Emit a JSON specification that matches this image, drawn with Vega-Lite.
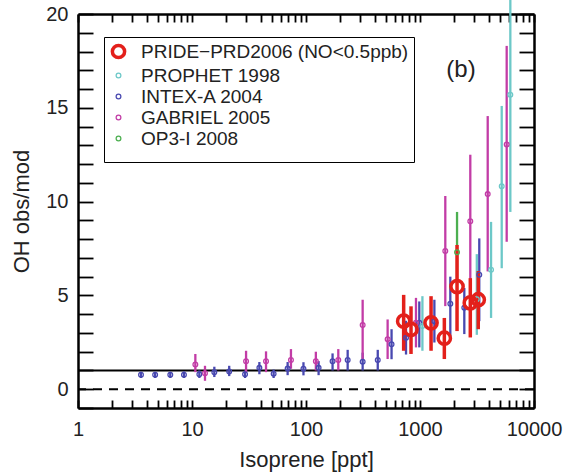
{
  "$schema": "https://vega.github.io/schema/vega-lite/v6.json",
  "width": 456,
  "height": 394,
  "autosize": {"type": "none"},
  "padding": {"left": 78, "top": 14, "right": 35, "bottom": 67},
  "background": "white",
  "config": {
    "view": {"stroke": null},
    "font": "Liberation Sans",
    "axis": {"grid": false, "domainColor": "black", "domainWidth": 2.5, "tickColor": "black", "tickWidth": 1.8, "labelColor": "#222", "titleColor": "#222", "labelFont": "Liberation Sans", "titleFont": "Liberation Sans", "titleFontWeight": "normal", "labelFlush": false, "labelOverlap": false},
    "legend": {"orient": "none", "legendX": 26, "legendY": 23, "strokeColor": "black", "padding": 5,
      "labelFontSize": 19, "labelFont": "Liberation Sans", "labelColor": "#222", "labelLimit": 400, "labelOffset": 13, "rowPadding": 1,
      "titleOrient": "bottom", "titleFontSize": 6, "titlePadding": 2}
  },
  "datasets": {
    "obs": [
      {"s": "INTEX-A 2004", "iso": 3.57, "ratio": 0.77, "lo": 0.6, "hi": 0.93},
      {"s": "INTEX-A 2004", "iso": 4.75, "ratio": 0.77, "lo": 0.6, "hi": 0.93},
      {"s": "INTEX-A 2004", "iso": 6.45, "ratio": 0.77, "lo": 0.6, "hi": 0.93},
      {"s": "INTEX-A 2004", "iso": 8.5, "ratio": 0.77, "lo": 0.6, "hi": 0.95},
      {"s": "INTEX-A 2004", "iso": 11.6, "ratio": 0.8, "lo": 0.6, "hi": 1.0},
      {"s": "INTEX-A 2004", "iso": 15.7, "ratio": 0.9, "lo": 0.65, "hi": 1.2},
      {"s": "INTEX-A 2004", "iso": 21.2, "ratio": 0.95, "lo": 0.7, "hi": 1.25},
      {"s": "INTEX-A 2004", "iso": 29.2, "ratio": 0.8, "lo": 0.6, "hi": 1.0},
      {"s": "INTEX-A 2004", "iso": 39, "ratio": 1.14, "lo": 0.8, "hi": 1.45},
      {"s": "INTEX-A 2004", "iso": 52, "ratio": 0.83, "lo": 0.6, "hi": 1.05},
      {"s": "INTEX-A 2004", "iso": 69, "ratio": 1.1, "lo": 0.75, "hi": 1.45},
      {"s": "INTEX-A 2004", "iso": 95, "ratio": 1.09, "lo": 0.74, "hi": 1.44},
      {"s": "INTEX-A 2004", "iso": 129, "ratio": 1.14, "lo": 0.75, "hi": 1.5},
      {"s": "INTEX-A 2004", "iso": 171, "ratio": 1.49, "lo": 1.0, "hi": 1.91},
      {"s": "INTEX-A 2004", "iso": 232, "ratio": 1.56, "lo": 1.0, "hi": 2.1},
      {"s": "INTEX-A 2004", "iso": 314, "ratio": 1.47, "lo": 1.0, "hi": 1.95},
      {"s": "INTEX-A 2004", "iso": 426, "ratio": 1.56, "lo": 1.0, "hi": 2.1},
      {"s": "INTEX-A 2004", "iso": 563, "ratio": 2.4, "lo": 1.6, "hi": 3.2},
      {"s": "INTEX-A 2004", "iso": 754, "ratio": 2.75, "lo": 1.85, "hi": 3.65},
      {"s": "INTEX-A 2004", "iso": 986, "ratio": 3.54, "lo": 2.23, "hi": 4.68},
      {"s": "INTEX-A 2004", "iso": 1337, "ratio": 3.63, "lo": 2.49, "hi": 4.77},
      {"s": "INTEX-A 2004", "iso": 1845, "ratio": 4.56, "lo": 2.75, "hi": 6.0},
      {"s": "INTEX-A 2004", "iso": 2447, "ratio": 4.34, "lo": 2.94, "hi": 5.4},
      {"s": "INTEX-A 2004", "iso": 3311, "ratio": 6.1, "lo": 3.63, "hi": 8.04},
      {"s": "GABRIEL 2005", "iso": 10.7, "ratio": 1.32, "lo": 0.91, "hi": 1.88},
      {"s": "GABRIEL 2005", "iso": 13.0, "ratio": 0.85, "lo": 0.45, "hi": 1.25},
      {"s": "GABRIEL 2005", "iso": 29.8, "ratio": 1.49, "lo": 0.91, "hi": 2.05},
      {"s": "GABRIEL 2005", "iso": 44.6, "ratio": 1.49, "lo": 0.91, "hi": 2.02},
      {"s": "GABRIEL 2005", "iso": 73.8, "ratio": 1.56, "lo": 1.09, "hi": 2.14},
      {"s": "GABRIEL 2005", "iso": 122, "ratio": 1.49, "lo": 1.0, "hi": 2.0},
      {"s": "GABRIEL 2005", "iso": 192, "ratio": 1.56, "lo": 1.0, "hi": 2.14},
      {"s": "GABRIEL 2005", "iso": 314, "ratio": 3.42, "lo": 1.61, "hi": 4.77},
      {"s": "GABRIEL 2005", "iso": 520, "ratio": 2.67, "lo": 1.61, "hi": 3.72},
      {"s": "GABRIEL 2005", "iso": 922, "ratio": 3.54, "lo": 2.23, "hi": 4.87},
      {"s": "GABRIEL 2005", "iso": 1667, "ratio": 7.37, "lo": 4.43, "hi": 10.3},
      {"s": "GABRIEL 2005", "iso": 2762, "ratio": 8.95, "lo": 5.4, "hi": 12.5},
      {"s": "GABRIEL 2005", "iso": 3926, "ratio": 10.4, "lo": 6.28, "hi": 14.56},
      {"s": "GABRIEL 2005", "iso": 5760, "ratio": 13.05, "lo": 7.86, "hi": 18.3},
      {"s": "PROPHET 1998", "iso": 1050, "ratio": 3.37, "lo": 2.05, "hi": 4.96},
      {"s": "PROPHET 1998", "iso": 3150, "ratio": 4.8, "lo": 2.9, "hi": 7.2},
      {"s": "PROPHET 1998", "iso": 4200, "ratio": 6.37, "lo": 3.8, "hi": 8.92},
      {"s": "PROPHET 1998", "iso": 5210, "ratio": 10.82, "lo": 6.45, "hi": 15.1},
      {"s": "PROPHET 1998", "iso": 6200, "ratio": 15.7, "lo": 9.45, "hi": 21.5},
      {"s": "OP3-I 2008", "iso": 2113, "ratio": 7.3, "lo": 5.57, "hi": 9.45},
      {"s": "PRIDE−PRD2006 (NO<0.5ppb)", "iso": 719, "ratio": 3.63, "lo": 2.05, "hi": 5.03},
      {"s": "PRIDE−PRD2006 (NO<0.5ppb)", "iso": 834, "ratio": 3.19, "lo": 1.88, "hi": 4.42},
      {"s": "PRIDE−PRD2006 (NO<0.5ppb)", "iso": 1250, "ratio": 3.54, "lo": 2.05, "hi": 4.96},
      {"s": "PRIDE−PRD2006 (NO<0.5ppb)", "iso": 1635, "ratio": 2.72, "lo": 1.61, "hi": 3.8},
      {"s": "PRIDE−PRD2006 (NO<0.5ppb)", "iso": 2113, "ratio": 5.47, "lo": 3.1, "hi": 7.69},
      {"s": "PRIDE−PRD2006 (NO<0.5ppb)", "iso": 2762, "ratio": 4.6, "lo": 2.76, "hi": 5.92},
      {"s": "PRIDE−PRD2006 (NO<0.5ppb)", "iso": 3245, "ratio": 4.77, "lo": 3.2, "hi": 6.3}
    ]
  },
  "data": {"name": "obs"},
  "resolve": {"axis": {"x": "independent", "y": "independent"}},
  "layer": [
    {
      "data": {"values": [{}]},
      "mark": {"type": "rule", "strokeDash": [9, 7], "strokeWidth": 1.8, "color": "black"},
      "encoding": {"y": {"datum": 0, "type": "quantitative", "axis": null}}
    },
    {
      "data": {"values": [{}]},
      "mark": {"type": "rule", "strokeWidth": 1.8, "color": "black"},
      "encoding": {"y": {"datum": 1, "type": "quantitative", "axis": null}}
    },
    {
      "transform": [{"filter": "datum.s != 'PRIDE−PRD2006 (NO<0.5ppb)'"}],
      "mark": {"type": "rule", "strokeWidth": 2.3, "clip": false},
      "encoding": {
        "x": {"field": "iso", "type": "quantitative",
          "scale": {"type": "log", "domain": [1, 10000], "nice": false},
          "axis": {"orient": "bottom", "title": "Isoprene [ppt]", "titleFontSize": 22, "titlePadding": 10,
            "values": [1,2,3,4,5,6,7,8,9,10,20,30,40,50,60,70,80,90,100,200,300,400,500,600,700,800,900,1000,2000,3000,4000,5000,6000,7000,8000,9000,10000],
            "format": "d", "labelFontSize": 20, "labelPadding": 19, "tickSize": -8,
            "labelExpr": "indexof(['1','10','100','1000','10000'], datum.label) >= 0 ? datum.label : ''",
            "encode": {"ticks": {"update": {"y2": {"signal": "indexof([1,10,100,1000,10000], datum.value) >= 0 ? -8 : -4"}}}}}},
        "y": {"field": "lo", "type": "quantitative",
          "scale": {"domain": [-1, 20], "nice": false, "zero": false},
          "axis": {"orient": "left", "title": "OH obs/mod", "titleFontSize": 22, "titlePadding": 12,
            "values": [-1,0,1,2,3,4,5,6,7,8,9,10,11,12,13,14,15,16,17,18,19,20],
            "labelFontSize": 20, "labelPadding": 25, "tickSize": -15,
            "labelExpr": "datum.value % 5 == 0 ? datum.label : ''",
            "encode": {"ticks": {"update": {"x2": {"signal": "datum.value % 5 == 0 ? 15 : 8"}}}}}},
        "y2": {"field": "hi"},
        "stroke": {"field": "s", "type": "nominal", "legend": null,
          "scale": {"domain": ["PROPHET 1998", "INTEX-A 2004", "GABRIEL 2005", "OP3-I 2008", "PRIDE−PRD2006 (NO<0.5ppb)"],
            "range": ["#6cc8c8", "#4848b0", "#c23ca6", "#4caf50", "#e3201b"]}}
      }
    },
    {
      "transform": [{"filter": "datum.s == 'PRIDE−PRD2006 (NO<0.5ppb)'"}],
      "mark": {"type": "rule", "strokeWidth": 3.5},
      "encoding": {
        "x": {"field": "iso", "type": "quantitative", "axis": null},
        "y": {"field": "lo", "type": "quantitative", "axis": null},
        "y2": {"field": "hi"},
        "stroke": {"field": "s", "type": "nominal", "legend": null}
      }
    },
    {
      "mark": {"type": "point", "filled": false, "shape": "circle", "opacity": 1},
      "encoding": {
        "x": {"field": "iso", "type": "quantitative",
          "axis": {"orient": "top", "title": null, "labels": false, "tickSize": -8,
            "values": [1,2,3,4,5,6,7,8,9,10,20,30,40,50,60,70,80,90,100,200,300,400,500,600,700,800,900,1000,2000,3000,4000,5000,6000,7000,8000,9000,10000],
            "encode": {"ticks": {"update": {"y2": {"signal": "indexof([1,10,100,1000,10000], datum.value) >= 0 ? 8 : 4"}}}}}},
        "y": {"field": "ratio", "type": "quantitative",
          "axis": {"orient": "right", "title": null, "labels": false, "tickSize": -15,
            "values": [-1,0,1,2,3,4,5,6,7,8,9,10,11,12,13,14,15,16,17,18,19,20],
            "encode": {"ticks": {"update": {"x2": {"signal": "datum.value % 5 == 0 ? -15 : -8"}}}}}},
        "color": {"field": "s", "type": "nominal", "title": " ",
          "legend": {"encode": {"legend": {"update": {"strokeWidth": {"value": 2}}}}},
          "scale": {"domain": ["PRIDE−PRD2006 (NO<0.5ppb)", "PROPHET 1998", "INTEX-A 2004", "GABRIEL 2005", "OP3-I 2008"],
            "range": ["#e3201b", "#6cc8c8", "#4848b0", "#c23ca6", "#4caf50"]}},
        "size": {"field": "s", "type": "nominal", "title": " ",
          "scale": {"type": "ordinal", "domain": ["PRIDE−PRD2006 (NO<0.5ppb)", "PROPHET 1998", "INTEX-A 2004", "GABRIEL 2005", "OP3-I 2008"], "range": [150, 22, 22, 22, 22]}},
        "strokeWidth": {"field": "s", "type": "nominal", "title": " ",
          "scale": {"type": "ordinal", "domain": ["PRIDE−PRD2006 (NO<0.5ppb)", "PROPHET 1998", "INTEX-A 2004", "GABRIEL 2005", "OP3-I 2008"], "range": [3.5, 1.3, 1.3, 1.3, 1.3]}}
      }
    },
    {
      "data": {"values": [{"t": "(b)"}]},
      "mark": {"type": "text", "fontSize": 24, "font": "Liberation Sans", "color": "#222"},
      "encoding": {
        "x": {"datum": 2290, "type": "quantitative", "axis": null},
        "y": {"datum": 17, "type": "quantitative", "axis": null},
        "text": {"field": "t"}
      }
    }
  ]
}
